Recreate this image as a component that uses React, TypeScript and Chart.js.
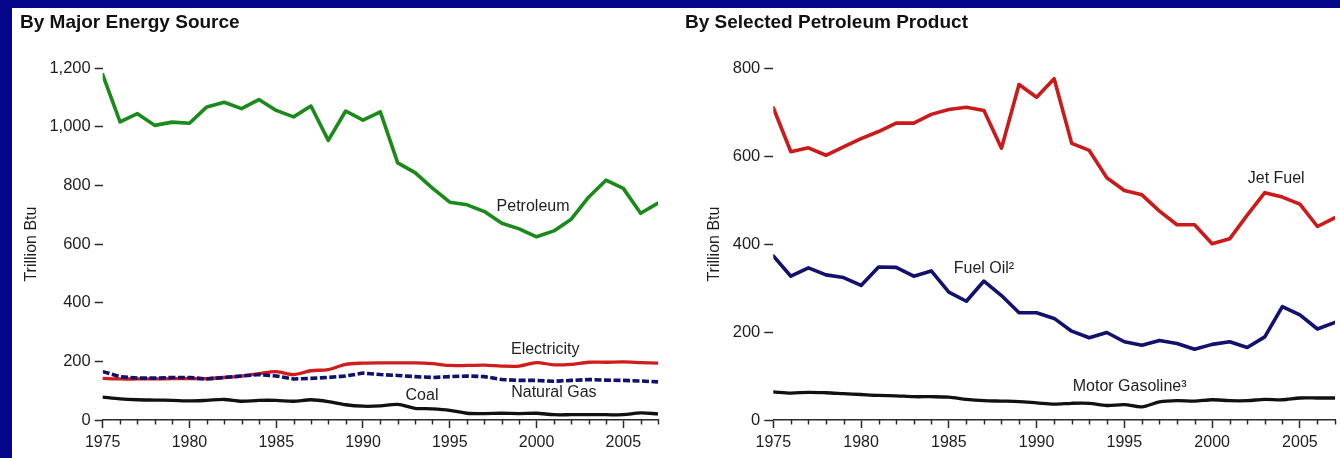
import React, { useEffect, useRef } from 'react';
import { Chart, registerables } from 'chart.js';

Chart.register(...registerables);

// ---------- data ----------
const years = [
  1975, 1976, 1977, 1978, 1979, 1980, 1981, 1982, 1983, 1984, 1985,
  1986, 1987, 1988, 1989, 1990, 1991, 1992, 1993, 1994, 1995, 1996,
  1997, 1998, 1999, 2000, 2001, 2002, 2003, 2004, 2005, 2006, 2007,
];

// By Major Energy Source (Trillion Btu)
const petroleum = [
  1178, 1017, 1045, 1005, 1016, 1012, 1068, 1084, 1062, 1093, 1056,
  1034, 1071, 954, 1054, 1023, 1051, 877, 844, 791, 743, 734,
  711, 671, 652, 625, 645, 685, 760, 818, 790, 705, 740,
];
const electricity = [
  142, 140, 140, 140, 141, 141, 141, 145, 150, 158, 165,
  155, 168, 172, 190, 194, 195, 195, 195, 192, 186, 186,
  187, 184, 184, 196, 188, 190, 197, 197, 198, 196, 194,
];
const naturalGas = [
  165, 148, 143, 143, 145, 145, 140, 145, 150, 155, 150,
  140, 142, 145, 150, 160, 155, 152, 148, 145, 148, 150,
  148, 138, 135, 135, 132, 135, 138, 136, 135, 133, 130,
];
const coal = [
  78, 72, 69, 68, 67, 65, 67, 70, 64, 67, 67,
  64, 69, 63, 52, 47, 48, 53, 40, 38, 33, 23,
  22, 23, 22, 23, 18, 18, 18, 18, 18, 24, 21,
];

// By Selected Petroleum Product (Trillion Btu)
const jetFuel = [
  710, 610, 619, 602, 621, 640, 656, 675, 675, 695, 706,
  711, 704, 618, 763, 734, 776, 629, 613, 551, 522, 512,
  475, 444, 444, 401, 412, 466, 517, 507, 491, 440, 460,
];
const fuelOil = [
  373, 327, 346, 330, 324, 306, 348, 347, 327, 339, 291,
  270, 316, 283, 244, 244, 231, 202, 187, 199, 178, 170,
  181, 174, 161, 172, 178, 165, 189, 258, 239, 207, 222,
];
const motorGasoline = [
  64, 61, 63, 62, 60, 58, 56, 55, 53, 53, 52,
  47, 44, 43, 42, 39, 36, 38, 38, 33, 35, 30,
  41, 44, 43, 46, 44, 44, 47, 46, 50, 50, 50,
];

// tick values
const leftYTicks = [0, 200, 400, 600, 800, 1000, 1200];
const rightYTicks = [0, 200, 400, 600, 800];

// in-chart labels: text, year position, value position
const leftLabelTexts = ['Petroleum', 'Electricity', 'Natural Gas', 'Coal'];
const leftLabelYears = [1999.8, 2000.5, 2001.0, 1993.4];
const leftLabelValues = [727, 241, 92, 82];

const rightLabelTexts = ['Jet Fuel', 'Fuel Oil\u00B2', 'Motor Gasoline\u00B3'];
const rightLabelYears = [2003.65, 1987.0, 1995.3];
const rightLabelValues = [548, 344, 75];

// ---------- styling ----------
const FONT = "'Liberation Sans', Arial, Helvetica, sans-serif";
const TEXT = '#1e1e1e';
const AXIS = '#2a2a2a';

function pts(vals: number[]) {
  return years.map((y, i) => ({ x: y, y: vals[i] }));
}

function makePlugin(texts: string[], xs: number[], ys: number[]) {
  return {
    id: 'labelsAndMinorTicks',
    afterDraw(chart: any) {
      const { ctx } = chart;
      const sx = chart.scales.x;
      const sy = chart.scales.y;
      ctx.save();
      // minor ticks every year
      ctx.strokeStyle = AXIS;
      ctx.lineWidth = 1.5;
      const top = sx.top;
      years.forEach((yr) => {
        if (yr % 5 === 0) return;
        const px = Math.round(sx.getPixelForValue(yr)) + 0.5;
        ctx.beginPath();
        ctx.moveTo(px, top);
        ctx.lineTo(px, top + 4.5);
        ctx.stroke();
      });
      // in-chart text labels
      ctx.fillStyle = TEXT;
      ctx.font = `16px ${FONT}`;
      ctx.textAlign = 'center';
      ctx.textBaseline = 'middle';
      texts.forEach((t, i) => {
        ctx.fillText(t, sx.getPixelForValue(xs[i]), sy.getPixelForValue(ys[i]));
      });
      ctx.restore();
    },
  };
}

interface PanelOpts {
  title: string;
  yMax: number;
  yTicks: number[];
  yWidth: number;
  yTickLen: number;
  yTitlePadTop: number;
  padLeft: number;
  padRight: number;
  datasets: any[];
  plugin: any;
}

function makeConfig(o: PanelOpts): any {
  return {
    type: 'line',
    data: { datasets: o.datasets },
    options: {
      responsive: false,
      animation: false,
      devicePixelRatio: 1,
      layout: { padding: { left: o.padLeft, right: o.padRight, top: 0, bottom: 0 } },
      elements: { point: { radius: 0 }, line: { tension: 0, borderJoinStyle: 'round', borderCapStyle: 'round' } },
      plugins: {
        legend: { display: false },
        tooltip: { enabled: false },
        title: {
          display: true,
          text: o.title,
          align: 'start',
          color: '#111111',
          font: { family: FONT, size: 19, weight: 'bold' },
          padding: { top: 3.5, bottom: 33.9 },
        },
      },
      scales: {
        x: {
          type: 'linear',
          min: 1975,
          max: 2007,
          afterBuildTicks: (s: any) => {
            s.ticks = years.map((v) => ({ value: v }));
          },
          afterFit: (s: any) => {
            s.height = 38;
          },
          ticks: {
            autoSkip: false,
            maxRotation: 0,
            padding: 5,
            color: TEXT,
            font: { family: FONT, size: 16 },
            callback: (v: any) => (Number(v) % 5 === 0 ? String(v) : ''),
          },
          grid: {
            drawOnChartArea: false,
            drawTicks: true,
            tickLength: 8,
            tickWidth: 1.5,
            tickColor: (c: any) => (c.tick && c.tick.value % 5 === 0 ? AXIS : 'rgba(0,0,0,0)'),
          },
          border: { display: true, color: AXIS, width: 1.5 },
        },
        y: {
          min: 0,
          max: o.yMax,
          afterBuildTicks: (s: any) => {
            s.ticks = o.yTicks.map((v) => ({ value: v }));
          },
          afterFit: (s: any) => {
            s.width = o.yWidth;
          },
          ticks: {
            padding: 4,
            color: TEXT,
            font: { family: FONT, size: 16.5 },
            callback: (v: any) => Number(v).toLocaleString('en-US'),
          },
          grid: {
            drawOnChartArea: false,
            drawTicks: true,
            tickLength: o.yTickLen,
            tickWidth: 1.5,
            tickColor: AXIS,
          },
          border: { display: false },
          title: {
            display: true,
            text: 'Trillion Btu',
            color: TEXT,
            font: { family: FONT, size: 16 },
            padding: { top: o.yTitlePadTop, bottom: 0 },
          },
        },
      },
    },
    plugins: [o.plugin],
  };
}

function Panel({ width, height, config }: { width: number; height: number; config: () => any }) {
  const ref = useRef<HTMLCanvasElement | null>(null);
  useEffect(() => {
    if (!ref.current) return;
    const chart = new Chart(ref.current, config());
    return () => chart.destroy();
  }, []);
  return <canvas ref={ref} width={width} height={height} style={{ display: 'block', width, height }} />;
}

export default function App() {
  const leftConfig = () =>
    makeConfig({
      title: 'By Major Energy Source',
      yMax: 1200,
      yTicks: leftYTicks,
      yWidth: 82.7,
      yTickLen: 8,
      yTitlePadTop: 2,
      padLeft: 8,
      padRight: 14,
      datasets: [
        { label: 'Petroleum', data: pts(petroleum), borderColor: '#1a8a1a', borderWidth: 3.6 },
        { label: 'Natural Gas', data: pts(naturalGas), borderColor: '#10106e', borderWidth: 3.6, borderDash: [7, 2.5], borderCapStyle: 'butt' },
        { label: 'Electricity', data: pts(electricity), borderColor: '#d01c1c', borderWidth: 3.3, tension: 0.3 },
        { label: 'Coal', data: pts(coal), borderColor: '#111111', borderWidth: 3.3, tension: 0.3 },
      ],
      plugin: makePlugin(leftLabelTexts, leftLabelYears, leftLabelValues),
    });

  const rightConfig = () =>
    makeConfig({
      title: 'By Selected Petroleum Product',
      yMax: 800,
      yTicks: rightYTicks,
      yWidth: 88.3,
      yTickLen: 9,
      yTitlePadTop: 20.4,
      padLeft: 13,
      padRight: 4,
      datasets: [
        { label: 'Jet Fuel', data: pts(jetFuel), borderColor: '#cc1a1a', borderWidth: 3.6 },
        { label: 'Fuel Oil', data: pts(fuelOil), borderColor: '#12126e', borderWidth: 3.6 },
        { label: 'Motor Gasoline', data: pts(motorGasoline), borderColor: '#111111', borderWidth: 3.3, tension: 0.3 },
      ],
      plugin: makePlugin(rightLabelTexts, rightLabelYears, rightLabelValues),
    });

  return (
    <div style={{ position: 'fixed', left: 0, top: 0, width: 1340, height: 458, background: '#06068a', overflow: 'hidden' }}>
      <div style={{ position: 'absolute', left: 12, top: 8, width: 1328, height: 450, background: '#ffffff' }}>
        <div style={{ position: 'absolute', left: 0, top: 0 }}>
          <Panel width={660} height={450} config={leftConfig} />
        </div>
        <div style={{ position: 'absolute', left: 660, top: 0 }}>
          <Panel width={668} height={450} config={rightConfig} />
        </div>
      </div>
    </div>
  );
}
